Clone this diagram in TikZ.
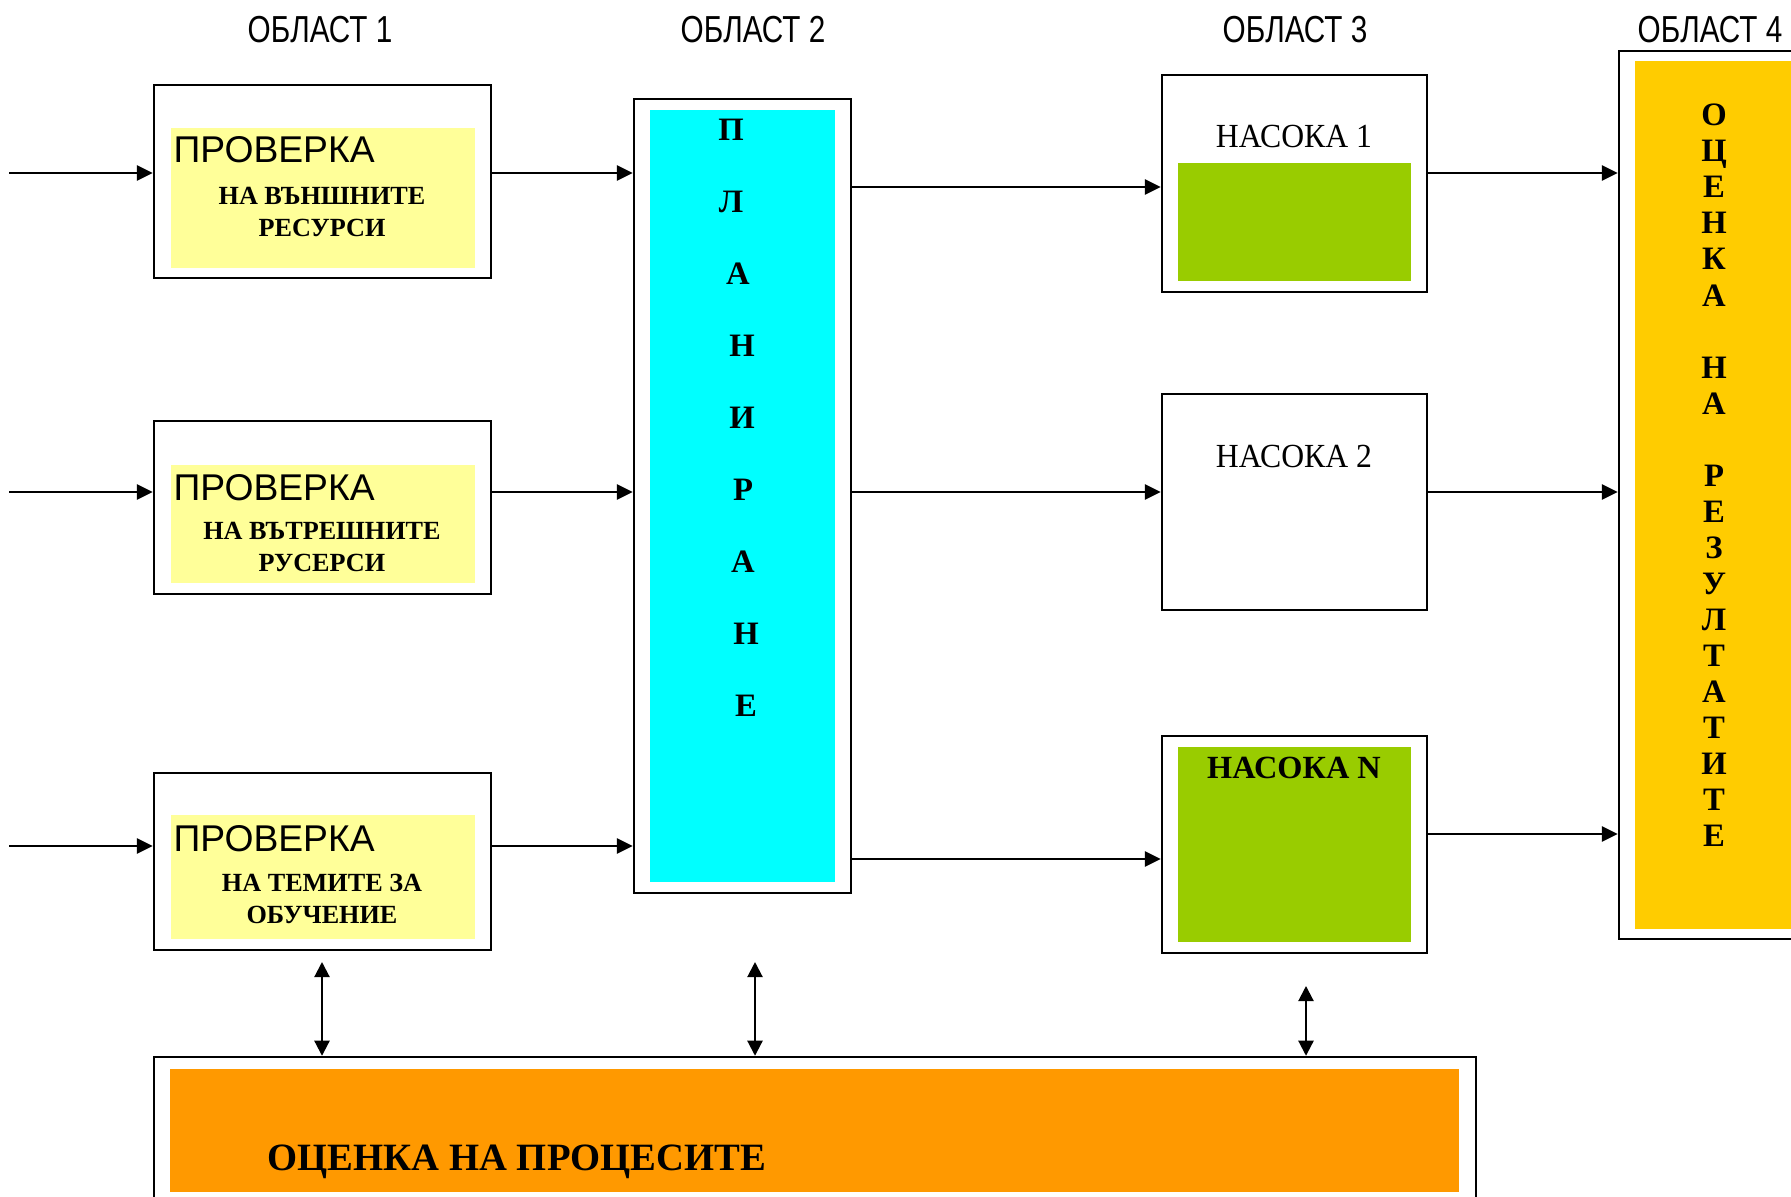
\documentclass[tikz,border=0pt]{standalone}
\usepackage{fontspec}
\setmainfont{Liberation Serif}
\newfontfamily\narrowsans[FakeStretch=0.79]{Liberation Sans}
\newfontfamily\plainsans{Liberation Sans}
\newfontfamily\serifnarrow[FakeStretch=0.94]{Liberation Serif}
\usetikzlibrary{arrows.meta}
\definecolor{cYellow}{HTML}{FFFF99}
\definecolor{cCyan}{HTML}{00FFFF}
\definecolor{cGreen}{HTML}{99CC00}
\definecolor{cGold}{HTML}{FFCC00}
\definecolor{cOrange}{HTML}{FF9900}
\tikzset{
  outerbox/.style={draw=black, line width=0.7pt, fill=white, inner sep=0pt},
  fillbox/.style={draw=none, inner sep=0pt},
  arr/.style={line width=0.6pt, -{Triangle[length=4.5pt,width=4.3pt]}},
  darr/.style={line width=0.6pt, {Triangle[length=4.3pt,width=4.3pt]}-{Triangle[length=4.3pt,width=4.3pt]}},
  titletxt/.style={inner sep=0pt, font=\narrowsans\fontsize{10.7}{12}\selectfont},
  provtxt/.style={inner sep=0pt, anchor=base west, font=\plainsans\fontsize{10.6}{12}\selectfont},
  subtxt/.style={inner sep=0pt, align=center, font=\bfseries\fontsize{7.45}{9.1}\selectfont},
  nastxt/.style={inner sep=0pt, font=\serifnarrow\fontsize{9.6}{11}\selectfont},
}
\begin{document}
\begin{tikzpicture}[x=0.1mm, y=-0.1mm]
\useasboundingbox (0,0) rectangle (1791,1197);
\clip (0,0) rectangle (1791,1197);
% titles
\node[titletxt] (t1) at (320,30) {ОБЛАСТ 1};
\node[titletxt] (t2) at (753,30) {ОБЛАСТ 2};
\node[titletxt] (t3) at (1295,30) {ОБЛАСТ 3};
\node[titletxt] (t4) at (1710,30) {ОБЛАСТ 4};
% column 1
\node[outerbox, minimum width=33.7mm, minimum height=19.3mm] (b1) at (322.5,181.5) {};
\node[fillbox, fill=cYellow, minimum width=30.4mm, minimum height=14.0mm] (y1) at (323,198) {};
\node[provtxt] (p1) at (173,163) {ПРОВЕРКА};
\node[subtxt] (s1) at (322,211.5) {НА ВЪНШНИТЕ\\РЕСУРСИ};
\node[outerbox, minimum width=33.7mm, minimum height=17.3mm] (b2) at (322.5,507.5) {};
\node[fillbox, fill=cYellow, minimum width=30.4mm, minimum height=11.8mm] (y2) at (323,524) {};
\node[provtxt] (p2) at (173,500) {ПРОВЕРКА};
\node[subtxt] (s2) at (322,547) {НА ВЪТРЕШНИТЕ\\РУСЕРСИ};
\node[outerbox, minimum width=33.7mm, minimum height=17.7mm] (b3) at (322.5,861.5) {};
\node[fillbox, fill=cYellow, minimum width=30.4mm, minimum height=12.4mm] (y3) at (323,877) {};
\node[provtxt] (p3) at (173,851) {ПРОВЕРКА};
\node[subtxt] (s3) at (322,899) {НА ТЕМИТЕ ЗА\\ОБУЧЕНИЕ};
% planning
\node[outerbox, minimum width=21.7mm, minimum height=79.4mm] (plan) at (742.5,496) {};
\node[fillbox, fill=cCyan, minimum width=18.5mm, minimum height=77.2mm] (planin) at (742.5,496) {};
\foreach \l/\xx [count=\i] in {П/731,Л/731,А/738,Н/742,И/742,Р/743,А/743,Н/746,Е/746}
  \node[inner sep=0pt, font=\bfseries\fontsize{9.3}{11}\selectfont] (pl\i) at (\xx,{130+72*(\i-1)}) {\l};
% column 3
\node[outerbox, minimum width=26.5mm, minimum height=21.7mm] (n1) at (1294.5,183.5) {};
\node[fillbox, fill=cGreen, minimum width=23.3mm, minimum height=11.8mm] (g1) at (1294.5,222) {};
\node[nastxt] (nt1) at (1294,136) {НАСОКА 1};
\node[outerbox, minimum width=26.5mm, minimum height=21.6mm] (n2) at (1294.5,502) {};
\node[nastxt] (nt2) at (1294,456) {НАСОКА 2};
\node[outerbox, minimum width=26.5mm, minimum height=21.7mm] (nN) at (1294.5,844.5) {};
\node[fillbox, fill=cGreen, minimum width=23.3mm, minimum height=19.5mm] (gN) at (1294.5,844.5) {};
\node[nastxt, font=\bfseries\fontsize{9.2}{11}\selectfont] (ntN) at (1294,767.5) {НАСОКА N};
% column 4
\node[outerbox, minimum width=20.1mm, minimum height=88.8mm] (o4) at (1719.5,495) {};
\node[fillbox, fill=cGold, minimum width=18.5mm, minimum height=86.8mm] (o4in) at (1727.5,495) {};
\node[inner sep=0pt, align=center, font=\bfseries\fontsize{9.3}{10.26}\selectfont] (o4t) at (1714,475.5)
  {О\\Ц\\Е\\Н\\К\\А\\\mbox{}\\Н\\А\\\mbox{}\\Р\\Е\\З\\У\\Л\\Т\\А\\Т\\И\\Т\\Е};
% bottom
\node[outerbox, minimum width=132.2mm, minimum height=15.8mm] (bot) at (815,1136) {};
\node[fillbox, fill=cOrange, minimum width=128.9mm, minimum height=12.3mm] (botin) at (814.5,1130.5) {};
\node[inner sep=0pt, anchor=base west, font=\bfseries\fontsize{11}{12}\selectfont] (bt) at (267,1170) {ОЦЕНКА НА ПРОЦЕСИТЕ};
% helper coordinates
\coordinate (yA) at (0,173);
\coordinate (yA2) at (0,187);
\coordinate (yB) at (0,492);
\coordinate (yC) at (0,846);
\coordinate (yC2) at (0,859);
\coordinate (yC3) at (0,834);
\coordinate (in1) at (9,173);
\coordinate (in2) at (9,492);
\coordinate (in3) at (9,846);
\coordinate (d1) at (322,962);
\coordinate (d2) at (755,962);
\coordinate (d3) at (1306,986);
% connectors
\draw[arr] (in1) -- (b1.west |- yA);
\draw[arr] (in2) -- (b2.west |- yB);
\draw[arr] (in3) -- (b3.west |- yC);
\draw[arr] (b1.east |- yA) -- (plan.west |- yA);
\draw[arr] (b2.east |- yB) -- (plan.west |- yB);
\draw[arr] (b3.east |- yC) -- (plan.west |- yC);
\draw[arr] (plan.east |- yA2) -- (n1.west |- yA2);
\draw[arr] (plan.east |- yB) -- (n2.west |- yB);
\draw[arr] (plan.east |- yC2) -- (nN.west |- yC2);
\draw[arr] (n1.east |- yA) -- (o4.west |- yA);
\draw[arr] (n2.east |- yB) -- (o4.west |- yB);
\draw[arr] (nN.east |- yC3) -- (o4.west |- yC3);
\draw[darr] (d1) -- (bot.north -| d1);
\draw[darr] (d2) -- (bot.north -| d2);
\draw[darr] (d3) -- (bot.north -| d3);
\end{tikzpicture}
\end{document}
